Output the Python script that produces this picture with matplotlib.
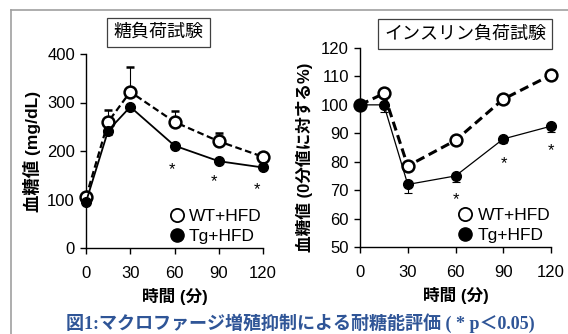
import numpy as np
import matplotlib
matplotlib.use("Agg")
from matplotlib import pyplot as plt
from matplotlib.lines import Line2D

plt.rcParams['font.family'] = ['Liberation Sans', 'Noto Sans CJK JP']

# time points (min)
t = [0, 15, 30, 60, 90, 120]

# glucose tolerance test (mg/dL)
gtt_wt = [105, 260, 322, 260, 220, 188]
gtt_wt_err = [3, 25, 51, 23, 18, 5]
gtt_tg = [95, 242, 291, 211, 179, 166]
gtt_tg_err = [5, 10, 4, 4, 3, 3]
gtt_star_x = [58, 87, 116]
gtt_star_y = [161, 136, 121]

# insulin tolerance test (% of 0 min)
itt_wt = [100, 104, 78.5, 87.5, 102, 110.5]
itt_wt_err = [0, 1, 1, 1, 1, 0.5]
itt_tg = [100, 100, 72, 75, 88, 92.5]
itt_tg_err = [0, 2.5, 3, 2, 1.5, 2]
itt_star_x = [60, 90.5, 120]
itt_star_y = [66.5, 79.5, 84]

fig = plt.figure(figsize=(5.68, 3.34), dpi=100)

# gray border (left and top)
fig.add_artist(Line2D([11/568, 11/568], [0, 1-10/334], color='#a0a0a0', lw=1.2))
fig.add_artist(Line2D([11/568, 1], [1-10/334, 1-10/334], color='#a0a0a0', lw=1.2))


def panel(ax, wt, wt_err, tg, tg_err, ylim, yticks, ylabel, title, title_pos, sx, sy, lw_wt, lw_tg, ylsize):
    ax.errorbar(t, wt, yerr=[np.zeros(len(wt_err)), wt_err], color='black', lw=lw_wt,
                ls=(0, (3, 1.6)), marker='o', ms=8.5, mfc='white', mec='black', mew=1.8,
                ecolor='black', elinewidth=0.8, capsize=3, capthick=0.8, clip_on=False, zorder=3)
    ax.errorbar(t, tg, yerr=[tg_err, np.zeros(len(tg_err))], color='black', lw=lw_tg,
                marker='o', ms=7, mfc='black', mec='black',
                ecolor='black', elinewidth=0.8, capsize=3, capthick=0.8, clip_on=False, zorder=4)
    for x, y in zip(sx, sy):
        ax.text(x, y, '*', ha='center', va='center', fontsize=12)
    ax.set_xlim(0, 120)
    ax.set_ylim(*ylim)
    ax.set_xticks([0, 30, 60, 90, 120])
    ax.set_yticks(yticks)
    for s in ['top', 'right']:
        ax.spines[s].set_visible(False)
    for s in ['left', 'bottom']:
        ax.spines[s].set_linewidth(1.0)
    ax.tick_params(direction='out', length=4, width=1.0, labelsize=12, pad=4)
    ax.tick_params(axis='x', pad=9)
    ax.set_xlabel('時間 (分)', fontsize=12, fontweight='bold', labelpad=5)
    ax.set_ylabel(ylabel, fontsize=ylsize, fontweight='bold', labelpad=4)
    ax.text(title_pos[0], title_pos[1], title, transform=ax.transAxes, ha='center', va='center',
            fontsize=13, bbox=dict(boxstyle='square,pad=0.35', fc='white', ec='#404040', lw=0.9))
    h1 = Line2D([], [], ls='none', marker='o', ms=9.5, mfc='white', mec='black', mew=1.3)
    h2 = Line2D([], [], ls='none', marker='o', ms=9.5, mfc='black', mec='black')
    ax.legend([h1, h2], ['WT+HFD', 'Tg+HFD'], loc='lower right', bbox_to_anchor=(1.06, -0.04),
              frameon=False, fontsize=12.5, handlelength=0.8, handletextpad=0.3,
              labelspacing=0.25, borderpad=0.2)


ax1 = fig.add_axes([86/568, 1-248/334, 177/568, 194/334])
panel(ax1, gtt_wt, gtt_wt_err, gtt_tg, gtt_tg_err, (0, 400), [0, 100, 200, 300, 400],
      '血糖値 (mg/dL)', '糖負荷試験', (0.41, 1.11), gtt_star_x, gtt_star_y, 1.6, 1.3, 12.5)

ax2 = fig.add_axes([360/568, 1-247/334, 191/568, 199/334])
panel(ax2, itt_wt, itt_wt_err, itt_tg, itt_tg_err, (50, 120), list(range(50, 121, 10)),
      '血糖値 (0分値に対する%)', 'インスリン負荷試験', (0.55, 1.07), itt_star_x, itt_star_y, 2.2, 0.9, 12)
ax2.yaxis.set_label_coords(-0.245, 0.45)

fig.text(300/568, 1-323/334, '図1:マクロファージ増殖抑制による耐糖能評価 ( * p＜0.05)',
         ha='center', va='center', fontsize=13, fontweight='bold', color='#2f5597',
         family=['Liberation Serif', 'Noto Sans CJK JP'])

fig.savefig('out.png', dpi=100)
